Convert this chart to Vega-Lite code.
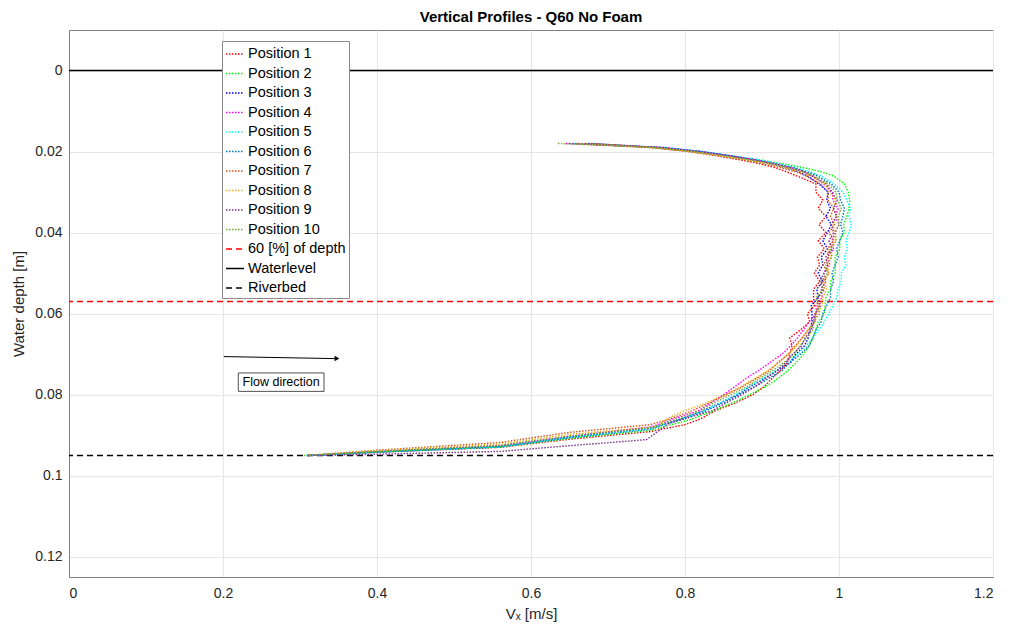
{
"$schema": "https://vega.github.io/schema/vega-lite/v6.json",
"width": 924, "height": 547,
"autosize": {"type": "none"},
"padding": {"left": 69, "top": 30, "right": 18, "bottom": 62},
"background": "white",
"title": {"text": "Vertical Profiles - Q60 No Foam", "fontSize": 15, "fontWeight": "bold", "color": "#000000", "font": "Liberation Sans", "offset": 5},
"datasets": {
"profiles": [
{"s":"Position 1","d":0.018,"v":0.660},{"s":"Position 1","d":0.019,"v":0.755},{"s":"Position 1","d":0.020,"v":0.805},{"s":"Position 1","d":0.021,"v":0.840},{"s":"Position 1","d":0.022,"v":0.870},{"s":"Position 1","d":0.023,"v":0.897},{"s":"Position 1","d":0.024,"v":0.917},{"s":"Position 1","d":0.025,"v":0.932},{"s":"Position 1","d":0.026,"v":0.945},{"s":"Position 1","d":0.028,"v":0.970},{"s":"Position 1","d":0.030,"v":0.970},{"s":"Position 1","d":0.032,"v":0.979},{"s":"Position 1","d":0.034,"v":0.973},{"s":"Position 1","d":0.036,"v":0.983},{"s":"Position 1","d":0.038,"v":0.974},{"s":"Position 1","d":0.040,"v":0.983},{"s":"Position 1","d":0.042,"v":0.973},{"s":"Position 1","d":0.044,"v":0.981},{"s":"Position 1","d":0.046,"v":0.972},{"s":"Position 1","d":0.048,"v":0.975},{"s":"Position 1","d":0.050,"v":0.968},{"s":"Position 1","d":0.052,"v":0.975},{"s":"Position 1","d":0.054,"v":0.967},{"s":"Position 1","d":0.056,"v":0.967},{"s":"Position 1","d":0.058,"v":0.968},{"s":"Position 1","d":0.060,"v":0.959},{"s":"Position 1","d":0.062,"v":0.962},{"s":"Position 1","d":0.064,"v":0.950},{"s":"Position 1","d":0.066,"v":0.936},{"s":"Position 1","d":0.068,"v":0.939},{"s":"Position 1","d":0.070,"v":0.936},{"s":"Position 1","d":0.072,"v":0.933},{"s":"Position 1","d":0.074,"v":0.924},{"s":"Position 1","d":0.076,"v":0.913},{"s":"Position 1","d":0.078,"v":0.903},{"s":"Position 1","d":0.080,"v":0.888},{"s":"Position 1","d":0.082,"v":0.866},{"s":"Position 1","d":0.084,"v":0.839},{"s":"Position 1","d":0.086,"v":0.820},{"s":"Position 1","d":0.0874,"v":0.800},{"s":"Position 1","d":0.0891,"v":0.755},{"s":"Position 1","d":0.0910,"v":0.650},{"s":"Position 1","d":0.0930,"v":0.560},{"s":"Position 1","d":0.0942,"v":0.400},{"s":"Position 1","d":0.095,"v":0.310},
{"s":"Position 2","d":0.018,"v":0.655},{"s":"Position 2","d":0.019,"v":0.760},{"s":"Position 2","d":0.020,"v":0.815},{"s":"Position 2","d":0.021,"v":0.857},{"s":"Position 2","d":0.022,"v":0.895},{"s":"Position 2","d":0.023,"v":0.927},{"s":"Position 2","d":0.024,"v":0.955},{"s":"Position 2","d":0.025,"v":0.977},{"s":"Position 2","d":0.026,"v":0.993},{"s":"Position 2","d":0.028,"v":1.007},{"s":"Position 2","d":0.030,"v":1.012},{"s":"Position 2","d":0.032,"v":1.014},{"s":"Position 2","d":0.034,"v":1.013},{"s":"Position 2","d":0.036,"v":1.010},{"s":"Position 2","d":0.038,"v":1.006},{"s":"Position 2","d":0.040,"v":1.007},{"s":"Position 2","d":0.042,"v":1.001},{"s":"Position 2","d":0.044,"v":1.001},{"s":"Position 2","d":0.046,"v":0.995},{"s":"Position 2","d":0.048,"v":0.995},{"s":"Position 2","d":0.050,"v":0.995},{"s":"Position 2","d":0.052,"v":0.989},{"s":"Position 2","d":0.054,"v":0.989},{"s":"Position 2","d":0.056,"v":0.983},{"s":"Position 2","d":0.058,"v":0.982},{"s":"Position 2","d":0.060,"v":0.981},{"s":"Position 2","d":0.062,"v":0.973},{"s":"Position 2","d":0.064,"v":0.970},{"s":"Position 2","d":0.066,"v":0.966},{"s":"Position 2","d":0.068,"v":0.961},{"s":"Position 2","d":0.070,"v":0.954},{"s":"Position 2","d":0.072,"v":0.945},{"s":"Position 2","d":0.074,"v":0.934},{"s":"Position 2","d":0.076,"v":0.921},{"s":"Position 2","d":0.078,"v":0.905},{"s":"Position 2","d":0.080,"v":0.884},{"s":"Position 2","d":0.082,"v":0.862},{"s":"Position 2","d":0.084,"v":0.837},{"s":"Position 2","d":0.0862,"v":0.806},{"s":"Position 2","d":0.0888,"v":0.755},{"s":"Position 2","d":0.0908,"v":0.650},{"s":"Position 2","d":0.0929,"v":0.560},{"s":"Position 2","d":0.0941,"v":0.400},{"s":"Position 2","d":0.095,"v":0.310},
{"s":"Position 3","d":0.018,"v":0.675},{"s":"Position 3","d":0.019,"v":0.765},{"s":"Position 3","d":0.020,"v":0.820},{"s":"Position 3","d":0.021,"v":0.855},{"s":"Position 3","d":0.022,"v":0.885},{"s":"Position 3","d":0.023,"v":0.910},{"s":"Position 3","d":0.024,"v":0.931},{"s":"Position 3","d":0.025,"v":0.947},{"s":"Position 3","d":0.026,"v":0.959},{"s":"Position 3","d":0.028,"v":0.974},{"s":"Position 3","d":0.030,"v":0.986},{"s":"Position 3","d":0.032,"v":0.984},{"s":"Position 3","d":0.034,"v":0.989},{"s":"Position 3","d":0.036,"v":0.983},{"s":"Position 3","d":0.038,"v":0.990},{"s":"Position 3","d":0.040,"v":0.985},{"s":"Position 3","d":0.042,"v":0.979},{"s":"Position 3","d":0.044,"v":0.985},{"s":"Position 3","d":0.046,"v":0.977},{"s":"Position 3","d":0.048,"v":0.979},{"s":"Position 3","d":0.050,"v":0.973},{"s":"Position 3","d":0.052,"v":0.979},{"s":"Position 3","d":0.054,"v":0.971},{"s":"Position 3","d":0.056,"v":0.973},{"s":"Position 3","d":0.058,"v":0.964},{"s":"Position 3","d":0.060,"v":0.965},{"s":"Position 3","d":0.062,"v":0.965},{"s":"Position 3","d":0.064,"v":0.962},{"s":"Position 3","d":0.066,"v":0.960},{"s":"Position 3","d":0.068,"v":0.955},{"s":"Position 3","d":0.070,"v":0.944},{"s":"Position 3","d":0.072,"v":0.937},{"s":"Position 3","d":0.074,"v":0.920},{"s":"Position 3","d":0.076,"v":0.903},{"s":"Position 3","d":0.078,"v":0.885},{"s":"Position 3","d":0.080,"v":0.868},{"s":"Position 3","d":0.082,"v":0.846},{"s":"Position 3","d":0.084,"v":0.823},{"s":"Position 3","d":0.086,"v":0.795},{"s":"Position 3","d":0.0885,"v":0.755},{"s":"Position 3","d":0.0906,"v":0.650},{"s":"Position 3","d":0.0929,"v":0.560},{"s":"Position 3","d":0.0942,"v":0.400},{"s":"Position 3","d":0.095,"v":0.312},
{"s":"Position 4","d":0.018,"v":0.645},{"s":"Position 4","d":0.019,"v":0.770},{"s":"Position 4","d":0.020,"v":0.820},{"s":"Position 4","d":0.021,"v":0.858},{"s":"Position 4","d":0.022,"v":0.890},{"s":"Position 4","d":0.023,"v":0.916},{"s":"Position 4","d":0.024,"v":0.938},{"s":"Position 4","d":0.025,"v":0.954},{"s":"Position 4","d":0.026,"v":0.965},{"s":"Position 4","d":0.028,"v":0.980},{"s":"Position 4","d":0.030,"v":0.992},{"s":"Position 4","d":0.032,"v":0.992},{"s":"Position 4","d":0.034,"v":0.999},{"s":"Position 4","d":0.036,"v":0.995},{"s":"Position 4","d":0.038,"v":1.000},{"s":"Position 4","d":0.040,"v":0.995},{"s":"Position 4","d":0.042,"v":0.991},{"s":"Position 4","d":0.044,"v":0.993},{"s":"Position 4","d":0.046,"v":0.985},{"s":"Position 4","d":0.048,"v":0.988},{"s":"Position 4","d":0.050,"v":0.980},{"s":"Position 4","d":0.052,"v":0.983},{"s":"Position 4","d":0.054,"v":0.977},{"s":"Position 4","d":0.056,"v":0.978},{"s":"Position 4","d":0.058,"v":0.970},{"s":"Position 4","d":0.060,"v":0.971},{"s":"Position 4","d":0.062,"v":0.961},{"s":"Position 4","d":0.064,"v":0.954},{"s":"Position 4","d":0.066,"v":0.946},{"s":"Position 4","d":0.068,"v":0.937},{"s":"Position 4","d":0.070,"v":0.926},{"s":"Position 4","d":0.072,"v":0.911},{"s":"Position 4","d":0.074,"v":0.896},{"s":"Position 4","d":0.076,"v":0.879},{"s":"Position 4","d":0.078,"v":0.865},{"s":"Position 4","d":0.080,"v":0.850},{"s":"Position 4","d":0.082,"v":0.834},{"s":"Position 4","d":0.084,"v":0.817},{"s":"Position 4","d":0.086,"v":0.785},{"s":"Position 4","d":0.0880,"v":0.755},{"s":"Position 4","d":0.0903,"v":0.650},{"s":"Position 4","d":0.0926,"v":0.560},{"s":"Position 4","d":0.0940,"v":0.400},{"s":"Position 4","d":0.095,"v":0.310},
{"s":"Position 5","d":0.018,"v":0.655},{"s":"Position 5","d":0.019,"v":0.770},{"s":"Position 5","d":0.020,"v":0.823},{"s":"Position 5","d":0.021,"v":0.860},{"s":"Position 5","d":0.022,"v":0.895},{"s":"Position 5","d":0.023,"v":0.922},{"s":"Position 5","d":0.024,"v":0.945},{"s":"Position 5","d":0.025,"v":0.962},{"s":"Position 5","d":0.026,"v":0.977},{"s":"Position 5","d":0.028,"v":0.994},{"s":"Position 5","d":0.030,"v":1.005},{"s":"Position 5","d":0.032,"v":1.010},{"s":"Position 5","d":0.034,"v":1.015},{"s":"Position 5","d":0.036,"v":1.013},{"s":"Position 5","d":0.038,"v":1.016},{"s":"Position 5","d":0.040,"v":1.013},{"s":"Position 5","d":0.042,"v":1.009},{"s":"Position 5","d":0.044,"v":1.011},{"s":"Position 5","d":0.046,"v":1.007},{"s":"Position 5","d":0.048,"v":1.009},{"s":"Position 5","d":0.050,"v":1.003},{"s":"Position 5","d":0.052,"v":1.003},{"s":"Position 5","d":0.054,"v":0.999},{"s":"Position 5","d":0.056,"v":0.997},{"s":"Position 5","d":0.058,"v":0.992},{"s":"Position 5","d":0.060,"v":0.987},{"s":"Position 5","d":0.062,"v":0.981},{"s":"Position 5","d":0.064,"v":0.974},{"s":"Position 5","d":0.066,"v":0.966},{"s":"Position 5","d":0.068,"v":0.957},{"s":"Position 5","d":0.070,"v":0.946},{"s":"Position 5","d":0.072,"v":0.933},{"s":"Position 5","d":0.074,"v":0.918},{"s":"Position 5","d":0.076,"v":0.901},{"s":"Position 5","d":0.078,"v":0.883},{"s":"Position 5","d":0.080,"v":0.866},{"s":"Position 5","d":0.082,"v":0.846},{"s":"Position 5","d":0.084,"v":0.825},{"s":"Position 5","d":0.086,"v":0.797},{"s":"Position 5","d":0.0884,"v":0.755},{"s":"Position 5","d":0.0905,"v":0.650},{"s":"Position 5","d":0.0929,"v":0.560},{"s":"Position 5","d":0.0942,"v":0.400},{"s":"Position 5","d":0.095,"v":0.308},
{"s":"Position 6","d":0.018,"v":0.670},{"s":"Position 6","d":0.019,"v":0.773},{"s":"Position 6","d":0.020,"v":0.821},{"s":"Position 6","d":0.021,"v":0.857},{"s":"Position 6","d":0.022,"v":0.890},{"s":"Position 6","d":0.023,"v":0.917},{"s":"Position 6","d":0.024,"v":0.941},{"s":"Position 6","d":0.025,"v":0.958},{"s":"Position 6","d":0.026,"v":0.972},{"s":"Position 6","d":0.028,"v":0.990},{"s":"Position 6","d":0.030,"v":1.000},{"s":"Position 6","d":0.032,"v":1.002},{"s":"Position 6","d":0.034,"v":1.007},{"s":"Position 6","d":0.036,"v":1.005},{"s":"Position 6","d":0.038,"v":1.002},{"s":"Position 6","d":0.040,"v":1.005},{"s":"Position 6","d":0.042,"v":1.001},{"s":"Position 6","d":0.044,"v":0.997},{"s":"Position 6","d":0.046,"v":0.999},{"s":"Position 6","d":0.048,"v":0.995},{"s":"Position 6","d":0.050,"v":0.991},{"s":"Position 6","d":0.052,"v":0.993},{"s":"Position 6","d":0.054,"v":0.989},{"s":"Position 6","d":0.056,"v":0.989},{"s":"Position 6","d":0.058,"v":0.984},{"s":"Position 6","d":0.060,"v":0.979},{"s":"Position 6","d":0.062,"v":0.977},{"s":"Position 6","d":0.064,"v":0.970},{"s":"Position 6","d":0.066,"v":0.966},{"s":"Position 6","d":0.068,"v":0.961},{"s":"Position 6","d":0.070,"v":0.950},{"s":"Position 6","d":0.072,"v":0.937},{"s":"Position 6","d":0.074,"v":0.926},{"s":"Position 6","d":0.076,"v":0.909},{"s":"Position 6","d":0.078,"v":0.891},{"s":"Position 6","d":0.080,"v":0.870},{"s":"Position 6","d":0.082,"v":0.850},{"s":"Position 6","d":0.084,"v":0.827},{"s":"Position 6","d":0.086,"v":0.798},{"s":"Position 6","d":0.0882,"v":0.755},{"s":"Position 6","d":0.0904,"v":0.650},{"s":"Position 6","d":0.0927,"v":0.560},{"s":"Position 6","d":0.0941,"v":0.400},{"s":"Position 6","d":0.095,"v":0.310},
{"s":"Position 7","d":0.018,"v":0.680},{"s":"Position 7","d":0.019,"v":0.760},{"s":"Position 7","d":0.020,"v":0.807},{"s":"Position 7","d":0.021,"v":0.842},{"s":"Position 7","d":0.022,"v":0.875},{"s":"Position 7","d":0.023,"v":0.902},{"s":"Position 7","d":0.024,"v":0.925},{"s":"Position 7","d":0.025,"v":0.944},{"s":"Position 7","d":0.026,"v":0.957},{"s":"Position 7","d":0.028,"v":0.976},{"s":"Position 7","d":0.030,"v":0.986},{"s":"Position 7","d":0.032,"v":0.986},{"s":"Position 7","d":0.034,"v":0.993},{"s":"Position 7","d":0.036,"v":0.989},{"s":"Position 7","d":0.038,"v":0.994},{"s":"Position 7","d":0.040,"v":0.987},{"s":"Position 7","d":0.042,"v":0.993},{"s":"Position 7","d":0.044,"v":0.985},{"s":"Position 7","d":0.046,"v":0.987},{"s":"Position 7","d":0.048,"v":0.979},{"s":"Position 7","d":0.050,"v":0.987},{"s":"Position 7","d":0.052,"v":0.979},{"s":"Position 7","d":0.054,"v":0.981},{"s":"Position 7","d":0.056,"v":0.973},{"s":"Position 7","d":0.058,"v":0.974},{"s":"Position 7","d":0.060,"v":0.969},{"s":"Position 7","d":0.062,"v":0.969},{"s":"Position 7","d":0.064,"v":0.960},{"s":"Position 7","d":0.066,"v":0.952},{"s":"Position 7","d":0.068,"v":0.943},{"s":"Position 7","d":0.070,"v":0.934},{"s":"Position 7","d":0.072,"v":0.921},{"s":"Position 7","d":0.074,"v":0.910},{"s":"Position 7","d":0.076,"v":0.893},{"s":"Position 7","d":0.078,"v":0.875},{"s":"Position 7","d":0.080,"v":0.854},{"s":"Position 7","d":0.082,"v":0.832},{"s":"Position 7","d":0.084,"v":0.809},{"s":"Position 7","d":0.086,"v":0.780},{"s":"Position 7","d":0.0874,"v":0.755},{"s":"Position 7","d":0.0893,"v":0.650},{"s":"Position 7","d":0.0918,"v":0.560},{"s":"Position 7","d":0.0937,"v":0.400},{"s":"Position 7","d":0.095,"v":0.310},
{"s":"Position 8","d":0.018,"v":0.660},{"s":"Position 8","d":0.019,"v":0.759},{"s":"Position 8","d":0.020,"v":0.810},{"s":"Position 8","d":0.021,"v":0.846},{"s":"Position 8","d":0.022,"v":0.880},{"s":"Position 8","d":0.023,"v":0.908},{"s":"Position 8","d":0.024,"v":0.931},{"s":"Position 8","d":0.025,"v":0.949},{"s":"Position 8","d":0.026,"v":0.963},{"s":"Position 8","d":0.028,"v":0.982},{"s":"Position 8","d":0.030,"v":0.988},{"s":"Position 8","d":0.032,"v":0.996},{"s":"Position 8","d":0.034,"v":0.992},{"s":"Position 8","d":0.036,"v":0.998},{"s":"Position 8","d":0.038,"v":0.992},{"s":"Position 8","d":0.040,"v":0.995},{"s":"Position 8","d":0.042,"v":0.995},{"s":"Position 8","d":0.044,"v":0.987},{"s":"Position 8","d":0.046,"v":0.990},{"s":"Position 8","d":0.048,"v":0.985},{"s":"Position 8","d":0.050,"v":0.987},{"s":"Position 8","d":0.052,"v":0.981},{"s":"Position 8","d":0.054,"v":0.984},{"s":"Position 8","d":0.056,"v":0.979},{"s":"Position 8","d":0.058,"v":0.978},{"s":"Position 8","d":0.060,"v":0.971},{"s":"Position 8","d":0.062,"v":0.969},{"s":"Position 8","d":0.064,"v":0.960},{"s":"Position 8","d":0.066,"v":0.952},{"s":"Position 8","d":0.068,"v":0.945},{"s":"Position 8","d":0.070,"v":0.934},{"s":"Position 8","d":0.072,"v":0.923},{"s":"Position 8","d":0.074,"v":0.908},{"s":"Position 8","d":0.076,"v":0.891},{"s":"Position 8","d":0.078,"v":0.873},{"s":"Position 8","d":0.080,"v":0.852},{"s":"Position 8","d":0.082,"v":0.828},{"s":"Position 8","d":0.084,"v":0.799},{"s":"Position 8","d":0.0856,"v":0.780},{"s":"Position 8","d":0.0879,"v":0.762},{"s":"Position 8","d":0.0898,"v":0.650},{"s":"Position 8","d":0.0922,"v":0.560},{"s":"Position 8","d":0.0938,"v":0.400},{"s":"Position 8","d":0.095,"v":0.310},
{"s":"Position 9","d":0.018,"v":0.650},{"s":"Position 9","d":0.019,"v":0.767},{"s":"Position 9","d":0.020,"v":0.818},{"s":"Position 9","d":0.021,"v":0.856},{"s":"Position 9","d":0.022,"v":0.889},{"s":"Position 9","d":0.023,"v":0.915},{"s":"Position 9","d":0.024,"v":0.937},{"s":"Position 9","d":0.025,"v":0.954},{"s":"Position 9","d":0.026,"v":0.965},{"s":"Position 9","d":0.028,"v":0.984},{"s":"Position 9","d":0.030,"v":0.990},{"s":"Position 9","d":0.032,"v":0.998},{"s":"Position 9","d":0.034,"v":0.993},{"s":"Position 9","d":0.036,"v":0.997},{"s":"Position 9","d":0.038,"v":0.990},{"s":"Position 9","d":0.040,"v":0.993},{"s":"Position 9","d":0.042,"v":0.987},{"s":"Position 9","d":0.044,"v":0.991},{"s":"Position 9","d":0.046,"v":0.983},{"s":"Position 9","d":0.048,"v":0.985},{"s":"Position 9","d":0.050,"v":0.981},{"s":"Position 9","d":0.052,"v":0.975},{"s":"Position 9","d":0.054,"v":0.979},{"s":"Position 9","d":0.056,"v":0.973},{"s":"Position 9","d":0.058,"v":0.976},{"s":"Position 9","d":0.060,"v":0.969},{"s":"Position 9","d":0.062,"v":0.967},{"s":"Position 9","d":0.064,"v":0.964},{"s":"Position 9","d":0.066,"v":0.956},{"s":"Position 9","d":0.068,"v":0.951},{"s":"Position 9","d":0.070,"v":0.940},{"s":"Position 9","d":0.072,"v":0.931},{"s":"Position 9","d":0.074,"v":0.920},{"s":"Position 9","d":0.076,"v":0.905},{"s":"Position 9","d":0.078,"v":0.891},{"s":"Position 9","d":0.080,"v":0.874},{"s":"Position 9","d":0.082,"v":0.854},{"s":"Position 9","d":0.084,"v":0.835},{"s":"Position 9","d":0.087,"v":0.780},{"s":"Position 9","d":0.0911,"v":0.750},{"s":"Position 9","d":0.0926,"v":0.650},{"s":"Position 9","d":0.0940,"v":0.560},{"s":"Position 9","d":0.0947,"v":0.400},{"s":"Position 9","d":0.095,"v":0.310},
{"s":"Position 10","d":0.018,"v":0.635},{"s":"Position 10","d":0.019,"v":0.755},{"s":"Position 10","d":0.020,"v":0.809},{"s":"Position 10","d":0.021,"v":0.848},{"s":"Position 10","d":0.022,"v":0.883},{"s":"Position 10","d":0.023,"v":0.912},{"s":"Position 10","d":0.024,"v":0.935},{"s":"Position 10","d":0.025,"v":0.954},{"s":"Position 10","d":0.026,"v":0.967},{"s":"Position 10","d":0.028,"v":0.986},{"s":"Position 10","d":0.030,"v":0.996},{"s":"Position 10","d":0.032,"v":0.998},{"s":"Position 10","d":0.034,"v":1.003},{"s":"Position 10","d":0.036,"v":0.999},{"s":"Position 10","d":0.038,"v":1.000},{"s":"Position 10","d":0.040,"v":0.995},{"s":"Position 10","d":0.042,"v":0.997},{"s":"Position 10","d":0.044,"v":0.989},{"s":"Position 10","d":0.046,"v":0.991},{"s":"Position 10","d":0.048,"v":0.983},{"s":"Position 10","d":0.050,"v":0.985},{"s":"Position 10","d":0.052,"v":0.977},{"s":"Position 10","d":0.054,"v":0.979},{"s":"Position 10","d":0.056,"v":0.971},{"s":"Position 10","d":0.058,"v":0.972},{"s":"Position 10","d":0.060,"v":0.975},{"s":"Position 10","d":0.062,"v":0.967},{"s":"Position 10","d":0.064,"v":0.966},{"s":"Position 10","d":0.066,"v":0.958},{"s":"Position 10","d":0.068,"v":0.949},{"s":"Position 10","d":0.070,"v":0.942},{"s":"Position 10","d":0.072,"v":0.929},{"s":"Position 10","d":0.074,"v":0.914},{"s":"Position 10","d":0.076,"v":0.897},{"s":"Position 10","d":0.078,"v":0.881},{"s":"Position 10","d":0.080,"v":0.860},{"s":"Position 10","d":0.082,"v":0.838},{"s":"Position 10","d":0.084,"v":0.819},{"s":"Position 10","d":0.086,"v":0.790},{"s":"Position 10","d":0.0882,"v":0.755},{"s":"Position 10","d":0.0902,"v":0.650},{"s":"Position 10","d":0.0925,"v":0.560},{"s":"Position 10","d":0.0940,"v":0.400},{"s":"Position 10","d":0.095,"v":0.305}
],
"refs": [
{"s":"60 [%] of depth","d":0.057},
{"s":"Waterlevel","d":0},
{"s":"Riverbed","d":0.095}
]
},
"layer": [
{
"data": {"name": "refs"},
"mark": {"type": "rule", "strokeWidth": 1.5},
"encoding": {
"y": {"field": "d", "type": "quantitative", "scale": {"domain": [-0.01, 0.125], "reverse": true, "nice": false, "zero": false},
  "axis": {"title": "Water depth [m]", "values": [0,0.02,0.04,0.06,0.08,0.1,0.12], "format": ".2~f", "grid": true, "titlePadding": 8}},
"color": {"field": "s", "type": "nominal", "scale": {"domain": ["Position 1","Position 2","Position 3","Position 4","Position 5","Position 6","Position 7","Position 8","Position 9","Position 10","60 [%] of depth","Waterlevel","Riverbed"], "range": ["#ff0000","#00ff00","#0000ff","#ff00ff","#00ffff","#0072bd","#d95319","#edb120","#7e2f8e","#77ac30","#ff0000","#000000","#000000"]},
  "legend": {"title": null, "orient": "none", "legendX": 153, "legendY": 11, "symbolType": "stroke", "symbolSize": 324, "symbolStrokeWidth": 1.5, "labelFontSize": 14.5, "labelColor": "#000000", "rowPadding": 2.5, "padding": 3, "strokeColor": "#8a8a8a", "fillColor": "#ffffff", "labelLimit": 300, "labelOffset": 3}},
"strokeDash": {"field": "s", "type": "nominal", "scale": {"domain": ["Position 1","Position 2","Position 3","Position 4","Position 5","Position 6","Position 7","Position 8","Position 9","Position 10","60 [%] of depth","Waterlevel","Riverbed"], "range": [[1.5,1.5],[1.5,1.5],[1.5,1.5],[1.5,1.5],[1.5,1.5],[1.5,1.5],[1.5,1.5],[1.5,1.5],[1.5,1.5],[1.5,1.5],[6,4],[1,0],[6,4]]},
  "legend": {"title": null, "orient": "none", "legendX": 153, "legendY": 11, "symbolType": "stroke", "symbolSize": 324, "symbolStrokeWidth": 1.5, "labelFontSize": 14.5, "labelColor": "#000000", "rowPadding": 2.5, "padding": 3, "strokeColor": "#8a8a8a", "fillColor": "#ffffff", "labelLimit": 300, "labelOffset": 3}}
}
},
{
"data": {"name": "profiles"},
"mark": {"type": "line", "strokeWidth": 1.4},
"encoding": {
"x": {"field": "v", "type": "quantitative", "scale": {"domain": [0, 1.2], "nice": false, "zero": false},
  "axis": {"title": "Vₓ [m/s]", "values": [0,0.2,0.4,0.6,0.8,1,1.2], "format": ".1~f", "grid": true, "labelPadding": 9, "titlePadding": 6}},
"y": {"field": "d", "type": "quantitative"},
"order": {"field": "d", "type": "quantitative"},
"color": {"field": "s", "type": "nominal"},
"strokeDash": {"field": "s", "type": "nominal"}
}
},
{
"data": {"values": [{"v": 0.201, "d": 0.0706}, {"v": 0.345, "d": 0.0711}]},
"mark": {"type": "line", "color": "#000000", "strokeWidth": 1},
"encoding": {"x": {"field": "v", "type": "quantitative"}, "y": {"field": "d", "type": "quantitative"}}
},
{
"data": {"values": [{"v": 0.348, "d": 0.0711}]},
"mark": {"type": "point", "shape": "triangle-right", "filled": true, "color": "#000000", "size": 30, "opacity": 1},
"encoding": {"x": {"field": "v", "type": "quantitative"}, "y": {"field": "d", "type": "quantitative"}}
},
{
"data": {"values": [{"v1": 0.2199, "v2": 0.3312, "d1": 0.07464, "d2": 0.07919}]},
"mark": {"type": "rect", "fill": "#ffffff", "stroke": "#262626", "strokeWidth": 0.8},
"encoding": {"x": {"field": "v1", "type": "quantitative"}, "x2": {"field": "v2"}, "y": {"field": "d1", "type": "quantitative"}, "y2": {"field": "d2"}}
},
{
"data": {"values": [{"v": 0.2755, "d": 0.0769, "t": "Flow direction"}]},
"mark": {"type": "text", "fontSize": 12.5, "color": "#000000", "align": "center", "baseline": "middle"},
"encoding": {"x": {"field": "v", "type": "quantitative"}, "y": {"field": "d", "type": "quantitative"}, "text": {"field": "t"}}
}
],
"config": {
"font": "Liberation Sans",
"view": {"stroke": "#7f7f7f", "strokeWidth": 1},
"axis": {"labelFontSize": 14, "labelColor": "#262626", "titleColor": "#262626", "titleFontSize": 15, "titleFontWeight": "normal", "gridColor": "#e6e6e6", "gridWidth": 1, "domainColor": "#7f7f7f", "ticks": false, "labelPadding": 7}
}
}
